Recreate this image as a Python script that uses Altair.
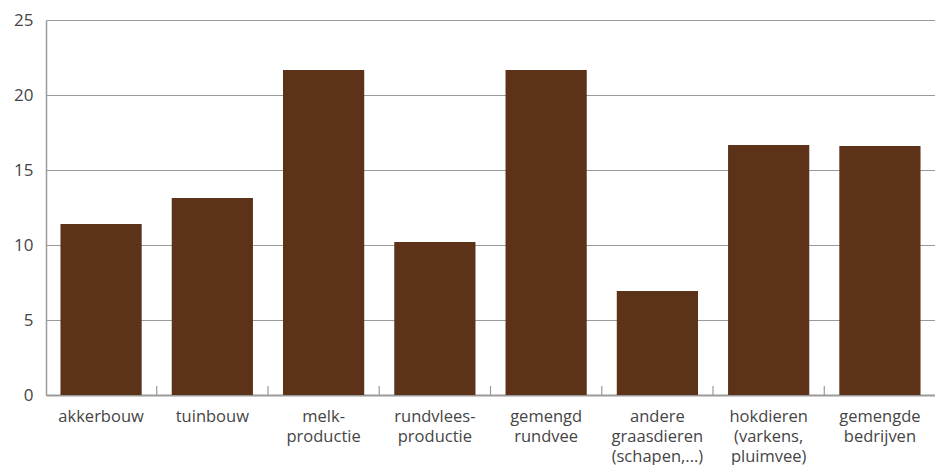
import altair as alt
import pandas as pd

categories = ["akkerbouw", "tuinbouw", "melk-|productie", "rundvlees-|productie",
              "gemengd|rundvee", "andere|graasdieren|(schapen,...)",
              "hokdieren|(varkens,|pluimvee)", "gemengde|bedrijven"]
values = [11.4, 13.13, 21.67, 10.2, 21.67, 6.93, 16.67, 16.6]

df = pd.DataFrame({"cat": categories, "val": values})
FONT = "Open Sans"
GRID = "#9a9a9a"
TXT = "#454545"
PAD_INNER = 0.27
PAD_OUTER = 0.13
WIDTH = 889

xscale = alt.Scale(paddingInner=PAD_INNER, paddingOuter=PAD_OUTER)
xenc_axis = alt.Axis(title=None, labelAngle=0, labelExpr="split(datum.label, '|')",
                     labelFont=FONT, labelFontSize=16.5, labelColor=TXT,
                     labelPadding=13, labelLineHeight=20, ticks=False,
                     domainColor=GRID, domainWidth=2, labelBaseline="top")

bars = alt.Chart(df).mark_bar(color="#5C3319").encode(
    x=alt.X("cat:N", sort=categories, scale=xscale, axis=xenc_axis),
    y=alt.Y("val:Q", scale=alt.Scale(domain=[0, 25]),
            axis=alt.Axis(title=None, values=[0, 5, 10, 15, 20, 25], ticks=False,
                          labelFont=FONT, labelFontSize=17, labelColor=TXT,
                          labelPadding=13, gridColor=GRID, gridWidth=1,
                          domainColor=GRID, domainWidth=1.5, gridOpacity=1)),
)

# separator ticks midway between neighbouring bars
step = WIDTH / (len(categories) - PAD_INNER + 2 * PAD_OUTER)
half_gap = step * PAD_INNER / 2
ticks = alt.Chart(df[df["cat"] != categories[0]]).mark_rule(
    color=GRID, strokeWidth=1.2, xOffset=-half_gap
).encode(
    x=alt.X("cat:N", sort=categories, scale=xscale, bandPosition=0),
    y=alt.value(366),
    y2=alt.value(375),
)

chart = alt.layer(bars, ticks).properties(
    width=WIDTH, height=375,
    padding={"left": 5, "top": 3, "right": 0, "bottom": 0},
).configure_view(stroke=None).configure_axis(grid=True).configure_axisX(grid=False)

chart.save("out.html", embed_options={"renderer": "svg", "actions": False})
